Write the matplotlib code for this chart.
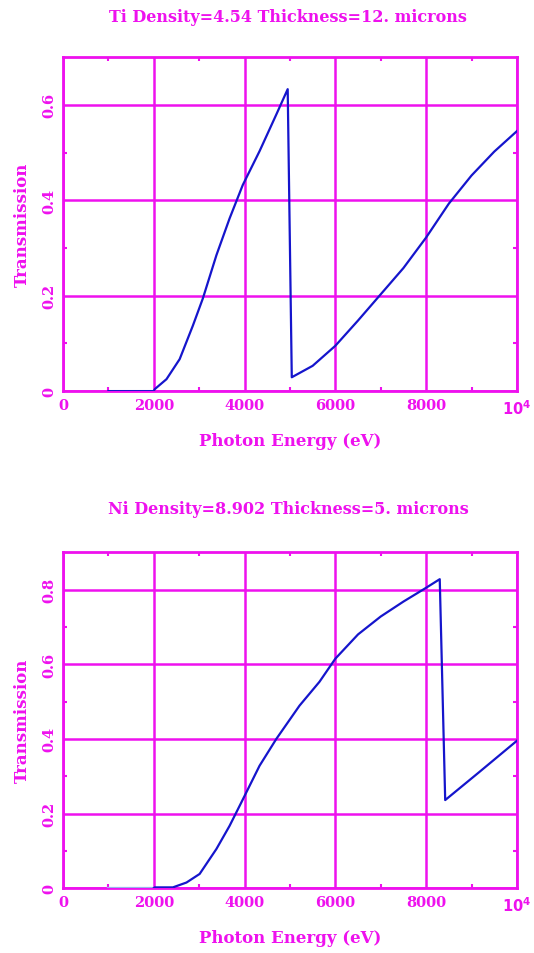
import numpy as np
import matplotlib
matplotlib.use("Agg")
import matplotlib.pyplot as plt
from matplotlib.ticker import FixedLocator

# Ti, 12 microns
ti_energy = [1000, 1500, 2000, 2020, 2280, 2570, 2860, 3080, 3380, 3670, 3960,
             4330, 4700, 4950, 5040, 5500, 6000, 6500, 7000, 7500, 8000, 8500,
             9000, 9500, 10000]
ti_trans = [0.0, 0.0, 0.0, 0.004, 0.025, 0.067, 0.137, 0.194, 0.285, 0.362, 0.432,
            0.503, 0.58, 0.633, 0.029, 0.053, 0.095, 0.148, 0.203, 0.258, 0.322, 0.393,
            0.452, 0.502, 0.545]

# Ni, 5 microns
ni_energy = [2000, 2020, 2420, 2720, 3010, 3380, 3670, 3930, 4330, 4700, 5210,
             5650, 6000, 6500, 7000, 7500, 8000, 8300, 8420, 9160, 10000]
ni_trans = [0.0, 0.002, 0.002, 0.015, 0.038, 0.105, 0.167, 0.23, 0.328, 0.4, 0.489,
            0.553, 0.615, 0.68, 0.728, 0.768, 0.805, 0.828, 0.236, 0.31, 0.395]
ni_flat_energy = [1000, 2000]
ni_flat_trans = [0.0, 0.0]

titles = ["Ti Density=4.54 Thickness=12. microns",
          "Ni Density=8.902 Thickness=5. microns"]
x_ticks = [0, 2000, 4000, 6000, 8000, 10000]
x_minor = [1000, 3000, 5000, 7000, 9000]
x_labels = ["0", "2000", "4000", "6000", "8000", r"$\mathbf{10^4}$"]
ti_yticks = [0, 0.2, 0.4, 0.6]
ti_ylabels = ["0", "0.2", "0.4", "0.6"]
ti_yminor = [0.1, 0.3, 0.5]
ni_yticks = [0, 0.2, 0.4, 0.6, 0.8]
ni_ylabels = ["0", "0.2", "0.4", "0.6", "0.8"]
ni_yminor = [0.1, 0.3, 0.5, 0.7]

MAG = "#ee11ee"
BLUE = "#1515cc"

plt.rcParams['font.family'] = ['DejaVu Serif']
plt.rcParams['font.weight'] = 'bold'
plt.rcParams['mathtext.default'] = 'bf'

fig = plt.figure(figsize=(5.34, 9.54), dpi=100)
ax1 = fig.add_axes([0.118, 0.589, 0.850, 0.350])
ax2 = fig.add_axes([0.118, 0.068, 0.850, 0.352])


def style(ax, ymax, yticks, ylabels, yminor):
    ax.set_xlim(0, 10000)
    ax.set_ylim(0, ymax)
    ax.xaxis.set_major_locator(FixedLocator(x_ticks))
    ax.xaxis.set_minor_locator(FixedLocator(x_minor))
    ax.yaxis.set_major_locator(FixedLocator(yticks))
    ax.yaxis.set_minor_locator(FixedLocator(yminor))
    ax.set_xticklabels(x_labels)
    ax.set_yticklabels(ylabels, rotation=90, va='center')
    ax.tick_params(which='both', direction='in', colors=MAG, top=True, right=True,
                   labelsize=10.5, width=1.5)
    ax.tick_params(which='major', length=0, pad=5)
    ax.tick_params(which='minor', length=3)
    for s in ax.spines.values():
        s.set_color(MAG)
        s.set_linewidth(2)
    ax.grid(True, which='major', color=MAG, linewidth=1.8, zorder=1)
    ax.set_axisbelow(True)
    ax.set_xlabel("Photon Energy (eV)", color=MAG, fontsize=12, labelpad=11,
                  fontweight='bold')
    ax.set_ylabel("Transmission", color=MAG, fontsize=12, labelpad=8,
                  fontweight='bold')


ax1.plot(ti_energy, ti_trans, color=BLUE, linewidth=1.6, zorder=3)
style(ax1, 0.7, ti_yticks, ti_ylabels, ti_yminor)

ax2.plot(ni_flat_energy, ni_flat_trans, color="#9ab0ee", linewidth=1.6, zorder=3)
ax2.plot(ni_energy, ni_trans, color=BLUE, linewidth=1.6, zorder=3)
style(ax2, 0.9, ni_yticks, ni_ylabels, ni_yminor)

fig.text(0.54, 1 - 17 / 954, titles[0], color=MAG, fontsize=11.5, ha='center', va='center',
         fontweight='bold')
fig.text(0.54, 1 - 510 / 954, titles[1], color=MAG, fontsize=11.5, ha='center', va='center',
         fontweight='bold')

fig.savefig("out.png", dpi=100)
